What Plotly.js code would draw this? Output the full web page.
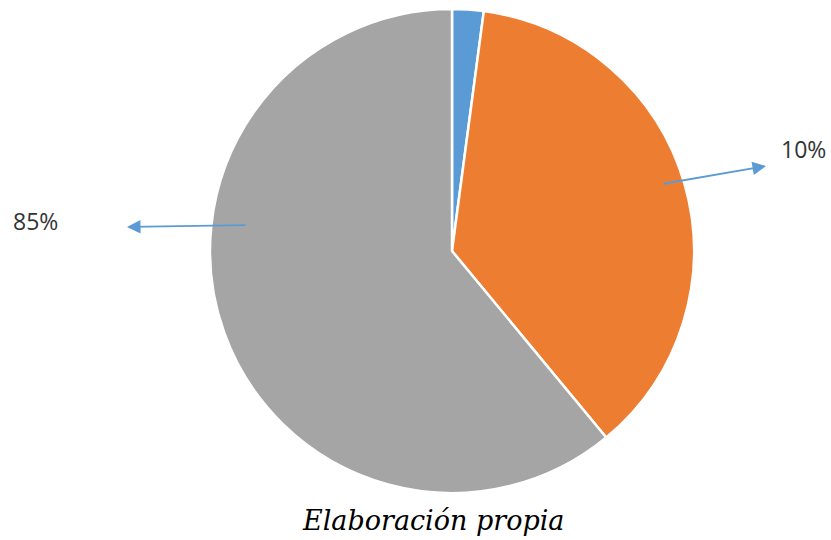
<!DOCTYPE html>
<html>
<head>
<meta charset="utf-8">
<script src="https://cdn.plot.ly/plotly-3.0.1.min.js"></script>
<style>html,body{margin:0;padding:0;background:#fff;}#chart{width:831px;height:540px;}</style>
</head>
<body>
<div id="chart"></div>
<script>
const categories = ["A", "B", "C"];
const values = [2.1, 36.9, 61.0];
const colors = ["#5B9BD5", "#ED7D31", "#A5A5A5"];
const calloutLabels = ["10%", "85%"];
const caption = "Elaboración propia";

const W = 831, H = 540;
const px = x => x / W;
const py = y => 1 - y / H;
const cx = 452, cy = 251, r = 242;

const data = [{
  type: "pie",
  labels: categories,
  values: values,
  sort: false,
  direction: "clockwise",
  rotation: 0,
  textinfo: "none",
  hoverinfo: "none",
  marker: {colors: colors, line: {color: "#ffffff", width: 2.5}},
  domain: {x: [px(cx - r), px(cx + r)], y: [py(cy + r), py(cy - r)]},
  showlegend: false
}];

const arrowStyle = {showarrow: true, arrowhead: 2, arrowsize: 1.5, arrowwidth: 1.8, arrowcolor: "#5B9BD5", axref: "pixel", ayref: "pixel", text: ""};
const labelFont = {family: "Open Sans", size: 23, color: "#333333"};

const layout = {
  width: W, height: H,
  margin: {l: 0, r: 0, t: 0, b: 0},
  paper_bgcolor: "#ffffff",
  showlegend: false,
  annotations: [
    Object.assign({xref: "paper", yref: "paper", x: px(766), y: py(166), ax: -104, ay: 18}, arrowStyle),
    Object.assign({xref: "paper", yref: "paper", x: px(127), y: py(227), ax: 120, ay: -2}, arrowStyle),
    {xref: "paper", yref: "paper", x: px(803), y: py(149), text: calloutLabels[0], showarrow: false,
     font: labelFont, xanchor: "center", yanchor: "middle"},
    {xref: "paper", yref: "paper", x: px(35), y: py(221), text: calloutLabels[1], showarrow: false,
     font: labelFont, xanchor: "center", yanchor: "middle"},
    {xref: "paper", yref: "paper", x: px(433), y: py(520), text: caption, showarrow: false,
     font: {family: "DejaVu Serif", style: "italic", size: 27, color: "#000000"}, xanchor: "center", yanchor: "middle"}
  ]
};

Plotly.newPlot("chart", data, layout, {staticPlot: true, displayModeBar: false});
</script>
</body>
</html>
